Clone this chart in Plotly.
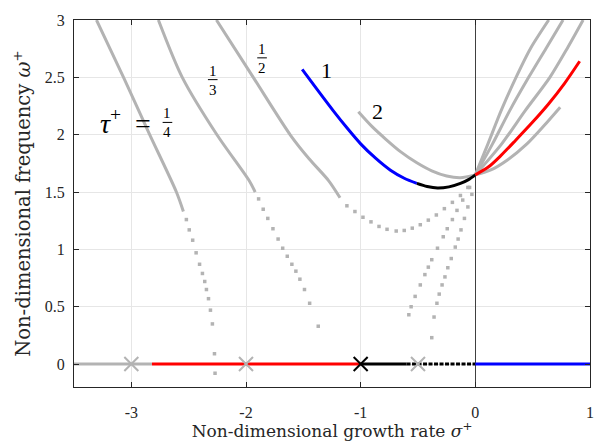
import plotly.graph_objects as go

# ---------------- data ----------------
# tau+ = 1/4 branch (solid part, then sparse dotted part)
q4_line_x = [-3.304, -3.069, -2.842, -2.607, -2.546]
q4_line_y = [3.00, 2.502, 2.005, 1.50, 1.33]
q4_dot_x = [-2.52, -2.495, -2.465, -2.435, -2.405, -2.38, -2.36, -2.345, -2.327, -2.31, -2.293, -2.275, -2.27]
q4_dot_y = [1.26, 1.17, 1.08, 0.97, 0.87, 0.79, 0.72, 0.65, 0.57, 0.47, 0.35, 0.09, -0.08]

# tau+ = 1/3 branch
q3_line_x = [-2.764, -2.557, -2.252, -1.973, -1.92]
q3_line_y = [3.00, 2.502, 1.997, 1.60, 1.50]
q3_dot_x = [-1.89, -1.85, -1.81, -1.765, -1.72, -1.68, -1.64, -1.60, -1.565, -1.53, -1.49, -1.445, -1.37]
q3_dot_y = [1.44, 1.35, 1.27, 1.18, 1.09, 1.01, 0.94, 0.87, 0.81, 0.74, 0.65, 0.53, 0.33]

# tau+ = 1/2 branch
q2_line_x = [-2.258, -1.938, -1.613, -1.45, -1.28, -1.18]
q2_line_y = [3.00, 2.502, 1.997, 1.79, 1.60, 1.45]
q2_dot_x = [-1.12, -1.05, -0.98, -0.91, -0.84, -0.77, -0.69, -0.62, -0.55, -0.48, -0.41, -0.34, -0.27, -0.20, -0.13, -0.065]
q2_dot_y = [1.38, 1.33, 1.28, 1.24, 1.20, 1.175, 1.16, 1.165, 1.185, 1.215, 1.255, 1.30, 1.355, 1.41, 1.47, 1.54]

# dotted branches leaving the crossing point towards the sigma axis
brA_x = [-0.05, -0.11, -0.16, -0.20, -0.245, -0.28, -0.33, -0.38, -0.41, -0.44, -0.48, -0.525, -0.56, -0.58]
brA_y = [1.54, 1.43, 1.34, 1.26, 1.18, 1.11, 1.01, 0.91, 0.845, 0.78, 0.69, 0.59, 0.50, 0.43]
brB_x = [-0.03, -0.065, -0.095, -0.125, -0.15, -0.175, -0.21, -0.24, -0.265, -0.29, -0.315, -0.335, -0.36, -0.38]
brB_y = [1.48, 1.37, 1.27, 1.17, 1.09, 1.02, 0.92, 0.84, 0.76, 0.69, 0.61, 0.53, 0.41, 0.23]

# right-hand grey branches (sigma > 0)
r1_x = [0.00, 0.11, 0.225, 0.355, 0.48, 0.64]
r1_y = [1.65, 1.92, 2.21, 2.50, 2.75, 3.00]
r2_x = [0.00, 0.15, 0.30, 0.465, 0.615, 0.765]
r2_y = [1.65, 1.92, 2.21, 2.50, 2.75, 3.00]
r3_x = [0.00, 0.23, 0.435, 0.65, 0.80, 0.94]
r3_y = [1.65, 1.92, 2.21, 2.50, 2.75, 3.00]

# curve "2" (grey)
c2_x = [-1.02, -0.90, -0.78, -0.65, -0.51, -0.38, -0.25, -0.13, 0.00, 0.13, 0.28, 0.45, 0.60, 0.74]
c2_y = [2.20, 2.07, 1.96, 1.85, 1.755, 1.685, 1.64, 1.625, 1.65, 1.69, 1.78, 1.92, 2.08, 2.24]

# curve "1": blue, black, red parts
c1_blue_x = [-1.51, -1.38, -1.24, -1.12, -1.00, -0.87, -0.74, -0.62, -0.51]
c1_blue_y = [2.57, 2.395, 2.21, 2.06, 1.92, 1.795, 1.69, 1.62, 1.575]
c1_black_x = [-0.51, -0.42, -0.33, -0.23, -0.13, -0.06, 0.00]
c1_black_y = [1.575, 1.548, 1.535, 1.545, 1.575, 1.608, 1.65]
c1_red_x = [0.00, 0.116, 0.22, 0.35, 0.50, 0.64, 0.78, 0.91]
c1_red_y = [1.65, 1.72, 1.815, 1.95, 2.11, 2.27, 2.45, 2.64]

# real-axis segments (omega = 0)
axis_grey_x = [-3.50, -2.82]
axis_red_x = [-2.82, -1.00]
axis_black_x = [-1.00, -0.60]
axis_blackdot_x = [-0.60, 0.00]
axis_blue_x = [0.00, 1.00]

# cross markers on the sigma axis
cross_grey_x = [-3.0, -2.0, -0.5]
cross_black_x = [-1.0]

# tick labels
x_tickvals = [-3, -2, -1, 0, 1]
x_ticktext = ["-3", "-2", "-1", "0", "1"]
y_tickvals = [0, 0.5, 1, 1.5, 2, 2.5, 3]
y_ticktext = ["0", "0.5", "1", "1.5", "2", "2.5", "3"]

# curve labels
frac_labels = [("1", "4", -2.685, 2.107), ("1", "3", -2.29, 2.48), ("1", "2", -1.86, 2.67)]
num_labels = [("1", -1.297, 2.563), ("2", -0.857, 2.20)]

# ---------------- figure ----------------
GREY = "#b3b3b3"
FONT = "Liberation Serif"
TFONT = "DejaVu Serif"
fig = go.Figure()

def zeros(xs):
    return [0 for _ in xs]

# grey solid lines
for xs, ys in [(q4_line_x, q4_line_y), (q3_line_x, q3_line_y), (q2_line_x, q2_line_y),
               (r1_x, r1_y), (r2_x, r2_y), (r3_x, r3_y), (c2_x, c2_y)]:
    fig.add_trace(go.Scatter(x=xs, y=ys, mode="lines", line=dict(color=GREY, width=3, shape="spline", smoothing=0.8),
                             hoverinfo="skip", showlegend=False))
# grey dotted parts
for xs, ys in [(q4_dot_x, q4_dot_y), (q3_dot_x, q3_dot_y), (q2_dot_x, q2_dot_y),
               (brA_x, brA_y), (brB_x, brB_y)]:
    fig.add_trace(go.Scatter(x=xs, y=ys, mode="markers",
                             marker=dict(color=GREY, size=3.5, symbol="square"),
                             hoverinfo="skip", showlegend=False))

# axis segments
fig.add_trace(go.Scatter(x=axis_grey_x, y=zeros(axis_grey_x), mode="lines",
                         line=dict(color=GREY, width=3), showlegend=False))
fig.add_trace(go.Scatter(x=axis_red_x, y=zeros(axis_red_x), mode="lines",
                         line=dict(color="#ff0000", width=3), showlegend=False))
fig.add_trace(go.Scatter(x=axis_black_x, y=zeros(axis_black_x), mode="lines",
                         line=dict(color="#000000", width=3), showlegend=False))
fig.add_trace(go.Scatter(x=axis_blackdot_x, y=zeros(axis_blackdot_x), mode="lines",
                         line=dict(color="#000000", width=3, dash="4px,1.5px"), showlegend=False))
fig.add_trace(go.Scatter(x=axis_blue_x, y=zeros(axis_blue_x), mode="lines",
                         line=dict(color="#0000ff", width=3), showlegend=False))

# curve 1
fig.add_trace(go.Scatter(x=c1_blue_x, y=c1_blue_y, mode="lines",
                         line=dict(color="#0000ff", width=3, shape="spline", smoothing=0.8), showlegend=False))
fig.add_trace(go.Scatter(x=c1_black_x, y=c1_black_y, mode="lines",
                         line=dict(color="#000000", width=3, shape="spline", smoothing=0.8), showlegend=False))
fig.add_trace(go.Scatter(x=c1_red_x, y=c1_red_y, mode="lines",
                         line=dict(color="#ff0000", width=3, shape="spline", smoothing=0.8), showlegend=False))

# crosses
fig.add_trace(go.Scatter(x=cross_grey_x, y=zeros(cross_grey_x), mode="markers",
                         marker=dict(symbol="x-thin", size=14, line=dict(color=GREY, width=2)),
                         showlegend=False))
fig.add_trace(go.Scatter(x=cross_black_x, y=zeros(cross_black_x), mode="markers",
                         marker=dict(symbol="x-thin", size=14, line=dict(color="#000000", width=2)),
                         showlegend=False))

annotations = []
shapes = []
for num, den, cx, cy in frac_labels:
    annotations.append(dict(x=cx, y=cy, text=num, showarrow=False, yanchor="bottom", yshift=-1,
                            font=dict(family=FONT, size=15, color="black")))
    annotations.append(dict(x=cx, y=cy, text=den, showarrow=False, yanchor="top", yshift=0,
                            font=dict(family=FONT, size=15, color="black")))
    shapes.append(dict(type="line", xref="x", yref="y", x0=cx - 0.042, x1=cx + 0.042, y0=cy, y1=cy,
                       line=dict(color="black", width=1)))
annotations.append(dict(x=frac_labels[0][2] - 0.13, y=frac_labels[0][3] + 0.01,
                        text="<i>τ</i><sup>+</sup>\u2002=",
                        showarrow=False, xanchor="right", yanchor="middle",
                        font=dict(family=FONT, size=28, color="black")))
for t, lx, ly in num_labels:
    annotations.append(dict(x=lx, y=ly, text=t, showarrow=False,
                            font=dict(family=FONT, size=22, color="black")))

axis_common = dict(showline=True, linecolor="#262626", linewidth=1, mirror="ticks",
                   ticks="inside", ticklen=5, tickcolor="#262626",
                   showgrid=True, gridcolor="#e6e6e6", gridwidth=1, automargin=False,
                   tickfont=dict(family=FONT, size=16, color="#262626"))

fig.update_layout(
    width=594, height=441,
    margin=dict(l=74, r=4, t=20, b=54),
    plot_bgcolor="white", paper_bgcolor="white",
    xaxis=dict(range=[-3.5, 1.0], tickvals=x_tickvals, ticktext=x_ticktext,
               zeroline=True, zerolinecolor="#404040", zerolinewidth=1,
               ticklabelstandoff=11,
               title=dict(text="Non-dimensional growth rate <i>σ</i><sup>+</sup>",
                          font=dict(family=TFONT, size=17, color="#262626"), standoff=2),
               **axis_common),
    yaxis=dict(range=[-0.2, 3.0], tickvals=y_tickvals, ticktext=y_ticktext,
               zeroline=False, ticklabelstandoff=5,
               title=dict(text="Non-dimensional frequency <i>ω</i><sup>+</sup>",
                          font=dict(family=TFONT, size=19.5, color="#262626"), standoff=8),
               **axis_common),
    annotations=annotations,
    shapes=shapes,
)

fig.write_html("out.html")
